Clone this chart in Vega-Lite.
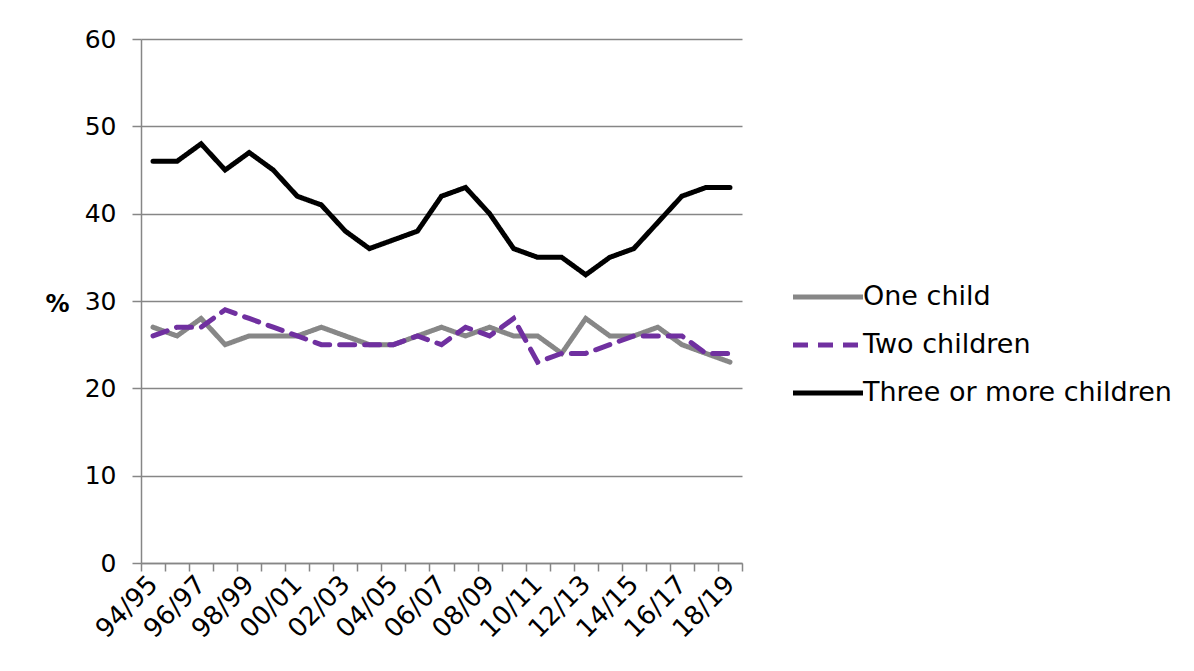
{
  "$schema": "https://vega.github.io/schema/vega-lite/v6.json",
  "width": 601,
  "height": 524,
  "autosize": {"type": "none"},
  "padding": {"left": 141, "top": 39, "right": 452, "bottom": 108},
  "background": "white",
  "config": {
    "view": {"stroke": null},
    "font": "DejaVu Sans",
    "axis": {"labelFont": "DejaVu Sans", "titleFont": "DejaVu Sans", "labelColor": "#000000", "titleColor": "#000000"},
    "legend": {"labelFont": "DejaVu Sans"}
  },
  "data": {
    "values": [
      {"year": "94/95", "series": "One child", "value": 27},
      {"year": "95/96", "series": "One child", "value": 26},
      {"year": "96/97", "series": "One child", "value": 28},
      {"year": "97/98", "series": "One child", "value": 25},
      {"year": "98/99", "series": "One child", "value": 26},
      {"year": "99/00", "series": "One child", "value": 26},
      {"year": "00/01", "series": "One child", "value": 26},
      {"year": "01/02", "series": "One child", "value": 27},
      {"year": "02/03", "series": "One child", "value": 26},
      {"year": "03/04", "series": "One child", "value": 25},
      {"year": "04/05", "series": "One child", "value": 25},
      {"year": "05/06", "series": "One child", "value": 26},
      {"year": "06/07", "series": "One child", "value": 27},
      {"year": "07/08", "series": "One child", "value": 26},
      {"year": "08/09", "series": "One child", "value": 27},
      {"year": "09/10", "series": "One child", "value": 26},
      {"year": "10/11", "series": "One child", "value": 26},
      {"year": "11/12", "series": "One child", "value": 24},
      {"year": "12/13", "series": "One child", "value": 28},
      {"year": "13/14", "series": "One child", "value": 26},
      {"year": "14/15", "series": "One child", "value": 26},
      {"year": "15/16", "series": "One child", "value": 27},
      {"year": "16/17", "series": "One child", "value": 25},
      {"year": "17/18", "series": "One child", "value": 24},
      {"year": "18/19", "series": "One child", "value": 23},
      {"year": "94/95", "series": "Two children", "value": 26},
      {"year": "95/96", "series": "Two children", "value": 27},
      {"year": "96/97", "series": "Two children", "value": 27},
      {"year": "97/98", "series": "Two children", "value": 29},
      {"year": "98/99", "series": "Two children", "value": 28},
      {"year": "99/00", "series": "Two children", "value": 27},
      {"year": "00/01", "series": "Two children", "value": 26},
      {"year": "01/02", "series": "Two children", "value": 25},
      {"year": "02/03", "series": "Two children", "value": 25},
      {"year": "03/04", "series": "Two children", "value": 25},
      {"year": "04/05", "series": "Two children", "value": 25},
      {"year": "05/06", "series": "Two children", "value": 26},
      {"year": "06/07", "series": "Two children", "value": 25},
      {"year": "07/08", "series": "Two children", "value": 27},
      {"year": "08/09", "series": "Two children", "value": 26},
      {"year": "09/10", "series": "Two children", "value": 28},
      {"year": "10/11", "series": "Two children", "value": 23},
      {"year": "11/12", "series": "Two children", "value": 24},
      {"year": "12/13", "series": "Two children", "value": 24},
      {"year": "13/14", "series": "Two children", "value": 25},
      {"year": "14/15", "series": "Two children", "value": 26},
      {"year": "15/16", "series": "Two children", "value": 26},
      {"year": "16/17", "series": "Two children", "value": 26},
      {"year": "17/18", "series": "Two children", "value": 24},
      {"year": "18/19", "series": "Two children", "value": 24},
      {"year": "94/95", "series": "Three or more children", "value": 46},
      {"year": "95/96", "series": "Three or more children", "value": 46},
      {"year": "96/97", "series": "Three or more children", "value": 48},
      {"year": "97/98", "series": "Three or more children", "value": 45},
      {"year": "98/99", "series": "Three or more children", "value": 47},
      {"year": "99/00", "series": "Three or more children", "value": 45},
      {"year": "00/01", "series": "Three or more children", "value": 42},
      {"year": "01/02", "series": "Three or more children", "value": 41},
      {"year": "02/03", "series": "Three or more children", "value": 38},
      {"year": "03/04", "series": "Three or more children", "value": 36},
      {"year": "04/05", "series": "Three or more children", "value": 37},
      {"year": "05/06", "series": "Three or more children", "value": 38},
      {"year": "06/07", "series": "Three or more children", "value": 42},
      {"year": "07/08", "series": "Three or more children", "value": 43},
      {"year": "08/09", "series": "Three or more children", "value": 40},
      {"year": "09/10", "series": "Three or more children", "value": 36},
      {"year": "10/11", "series": "Three or more children", "value": 35},
      {"year": "11/12", "series": "Three or more children", "value": 35},
      {"year": "12/13", "series": "Three or more children", "value": 33},
      {"year": "13/14", "series": "Three or more children", "value": 35},
      {"year": "14/15", "series": "Three or more children", "value": 36},
      {"year": "15/16", "series": "Three or more children", "value": 39},
      {"year": "16/17", "series": "Three or more children", "value": 42},
      {"year": "17/18", "series": "Three or more children", "value": 43},
      {"year": "18/19", "series": "Three or more children", "value": 43}
    ]
  },
  "mark": {"type": "line", "strokeWidth": 5, "strokeCap": "round", "strokeJoin": "miter"},
  "encoding": {
    "x": {
      "field": "year",
      "type": "ordinal",
      "sort": null,
      "scale": {"type": "band", "paddingInner": 0, "paddingOuter": 0},
      "axis": {
        "title": null,
        "tickBand": "extent",
        "domainColor": "#868686",
        "domainWidth": 1.5,
        "tickColor": "#868686",
        "tickWidth": 1.5,
        "tickSize": 8,
        "labelFontSize": 26,
        "labelAngle": -45,
        "labelAlign": "right",
        "labelBaseline": "middle",
        "labelPadding": 9,
        "labelOverlap": false,
        "labelExpr": "parseInt(substring(datum.value, 0, 2)) % 2 === 0 ? datum.value : ''"
      }
    },
    "y": {
      "field": "value",
      "type": "quantitative",
      "scale": {"domain": [0, 60], "nice": false, "zero": true},
      "axis": {
        "title": "%",
        "titleAngle": 0,
        "titleFontSize": 24,
        "titleFontWeight": "bold",
        "titleAnchor": null,
        "titleAlign": "left",
        "titleBaseline": "middle",
        "titleX": -96,
        "titleY": 265,
        "values": [0, 10, 20, 30, 40, 50, 60],
        "labelFontSize": 25,
        "labelPadding": 16,
        "tickSize": 9,
        "tickColor": "#868686",
        "tickWidth": 1.5,
        "domainColor": "#868686",
        "domainWidth": 1.5,
        "grid": true,
        "gridColor": "#868686",
        "gridWidth": 1.5
      }
    },
    "color": {
      "field": "series",
      "type": "nominal",
      "scale": {
        "domain": ["One child", "Two children", "Three or more children"],
        "range": ["#878787", "#7030A0", "#000000"]
      },
      "legend": {
        "title": null,
        "orient": "none",
        "legendX": 667,
        "legendY": 238,
        "symbolType": "M-2,0H2",
        "symbolSize": 1225,
        "symbolStrokeWidth": 5,
        "labelFontSize": 27,
        "labelColor": "#000000",
        "labelOffset": 15,
        "labelLimit": 0,
        "rowPadding": 15
      }
    },
    "strokeDash": {
      "field": "series",
      "type": "nominal",
      "scale": {
        "domain": ["One child", "Two children", "Three or more children"],
        "range": [[1, 0], [15, 10], [1, 0]]
      },
      "legend": null
    }
  }
}
